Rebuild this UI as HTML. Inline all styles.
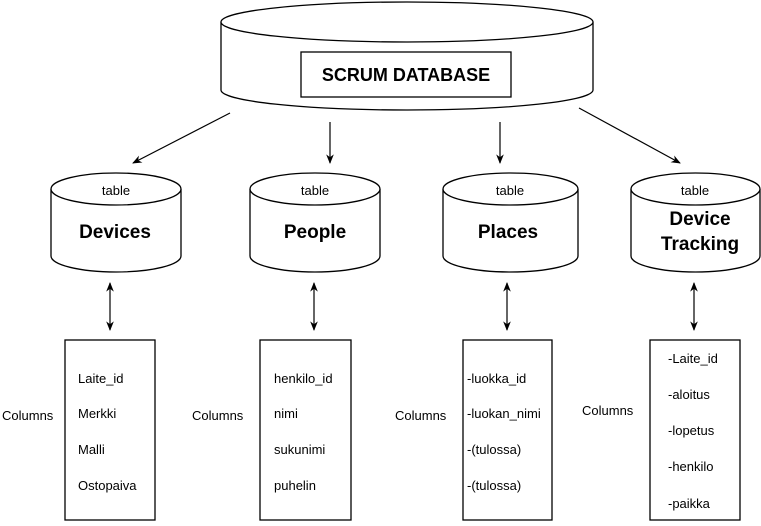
<!DOCTYPE html>
<html><head><meta charset="utf-8"><style>body{margin:0;background:#fff}</style></head><body>
<svg width="761" height="521" viewBox="0 0 761 521" xmlns="http://www.w3.org/2000/svg" font-family="Liberation Sans, Arial, sans-serif">
<defs><marker id="a" viewBox="0 0 10 10" refX="9" refY="5" markerWidth="8" markerHeight="8" orient="auto-start-reverse"><path d="M0,1 L10,5 L0,9 L3,5 z" fill="#000"/></marker></defs>
<g fill="#fff" stroke="#000" stroke-width="1.3">
<path d="M221,22 L221,90 A186,20 0 0 0 593,90 L593,22"/>
<ellipse cx="407" cy="22" rx="186" ry="20"/>
<rect x="301" y="52" width="210" height="45"/>
<path d="M51,189 L51,256 A65,16 0 0 0 181,256 L181,189"/><ellipse cx="116" cy="189" rx="65" ry="16"/>
<path d="M250,189 L250,256 A65,16 0 0 0 380,256 L380,189"/><ellipse cx="315" cy="189" rx="65" ry="16"/>
<path d="M443,189 L443,256 A67.5,16 0 0 0 578,256 L578,189"/><ellipse cx="510.5" cy="189" rx="67.5" ry="16"/>
<path d="M631,189 L631,256 A64.5,16 0 0 0 760,256 L760,189"/><ellipse cx="695.5" cy="189" rx="64.5" ry="16"/>
<rect x="65" y="340" width="90" height="180"/>
<rect x="260" y="340" width="91" height="180"/>
<rect x="463" y="340" width="89" height="180"/>
<rect x="650" y="340" width="90" height="180"/>
</g>
<g stroke="#000" stroke-width="1.2" marker-end="url(#a)">
<line x1="230" y1="113" x2="133" y2="163"/>
<line x1="330" y1="122" x2="330" y2="163"/>
<line x1="500" y1="122" x2="500" y2="163"/>
<line x1="579" y1="108" x2="680" y2="163"/>
<line x1="110" y1="283" x2="110" y2="330" marker-start="url(#a)"/>
<line x1="314" y1="283" x2="314" y2="330" marker-start="url(#a)"/>
<line x1="507" y1="283" x2="507" y2="330" marker-start="url(#a)"/>
<line x1="694" y1="283" x2="694" y2="330" marker-start="url(#a)"/>
</g>
<text x="406" y="81" font-size="18" font-weight="bold" text-anchor="middle">SCRUM DATABASE</text>
<g font-size="13" text-anchor="middle">
<text x="116" y="195">table</text><text x="315" y="195">table</text><text x="510" y="195">table</text><text x="695" y="195">table</text>
</g>
<g font-size="19" font-weight="bold" text-anchor="middle">
<text x="115" y="238">Devices</text><text x="315" y="238">People</text><text x="508" y="238">Places</text>
<text x="700" y="225">Device</text><text x="700" y="250">Tracking</text>
</g>
<g font-size="13">
<text x="2" y="420">Columns</text><text x="192" y="420">Columns</text><text x="395" y="420">Columns</text><text x="582" y="415">Columns</text>
<text x="78" y="383">Laite_id</text><text x="78" y="418">Merkki</text><text x="78" y="454">Malli</text><text x="78" y="490">Ostopaiva</text>
<text x="274" y="383">henkilo_id</text><text x="274" y="418">nimi</text><text x="274" y="454">sukunimi</text><text x="274" y="490">puhelin</text>
<text x="467" y="383">-luokka_id</text><text x="467" y="418">-luokan_nimi</text><text x="467" y="454">-(tulossa)</text><text x="467" y="490">-(tulossa)</text>
<text x="668" y="363">-Laite_id</text><text x="668" y="399">-aloitus</text><text x="668" y="435">-lopetus</text><text x="668" y="471">-henkilo</text><text x="668" y="508">-paikka</text>
</g>
</svg>
</body></html>
